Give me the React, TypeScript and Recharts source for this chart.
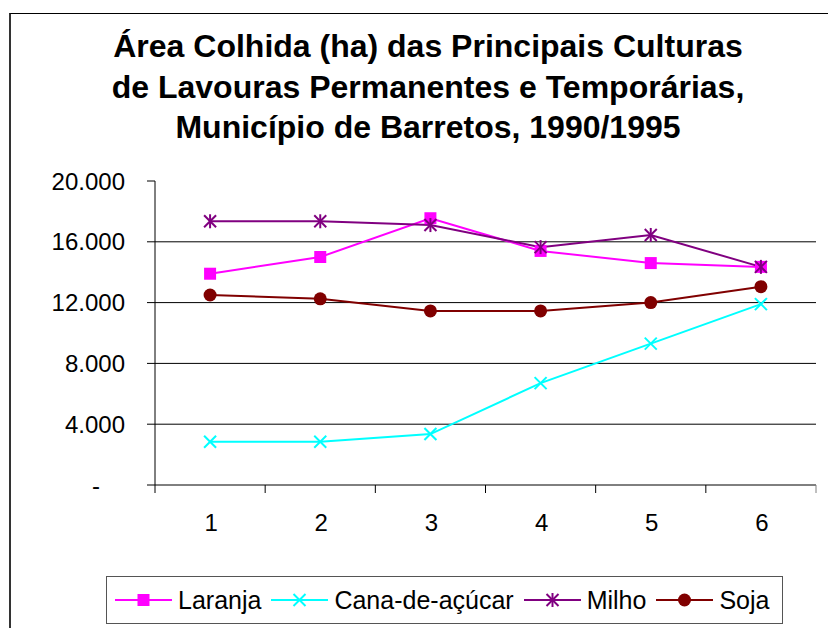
// Área colhida — gráfico de linhas com marcadores no estilo Excel
import React from 'react';
import { LineChart, Line, XAxis, YAxis, CartesianGrid } from 'recharts';

const anos = ['1', '2', '3', '4', '5', '6'];
const laranja = [13900, 15000, 17550, 15400, 14600, 14350];
const cana = [2850, 2850, 3350, 6700, 9300, 11900];
const milho = [17350, 17350, 17100, 15650, 16450, 14350];
const soja = [12500, 12250, 11450, 11450, 12000, 13050];
const yTicks = [0, 4000, 8000, 12000, 16000, 20000];
const titulo = [
  'Área Colhida (ha) das Principais Culturas',
  'de Lavouras Permanentes e Temporárias,',
  'Município de Barretos, 1990/1995',
];

const data = anos.map((ano, i) => ({
  ano,
  laranja: laranja[i],
  cana: cana[i],
  milho: milho[i],
  soja: soja[i],
}));

const series = [
  { key: 'laranja', nome: 'Laranja', cor: '#ff00ff', marca: 'quadrado' },
  { key: 'cana', nome: 'Cana-de-açúcar', cor: '#00ffff', marca: 'x' },
  { key: 'milho', nome: 'Milho', cor: '#800080', marca: 'asterisco' },
  { key: 'soja', nome: 'Soja', cor: '#800000', marca: 'circulo' },
];

const FONTE = '"Liberation Sans", Arial, sans-serif';

function formatar(v: number) {
  if (v === 0) return '-';
  return String(v).replace(/\B(?=(\d{3})+(?!\d))/g, '.');
}

// marcadores desenhados à mão
function Marca({ tipo, cx, cy, cor }: any) {
  if (cx == null || cy == null) return null;
  const s = 6;
  if (tipo === 'quadrado') {
    return <rect x={cx - s} y={cy - s} width={s * 2} height={s * 2} fill={cor} />;
  }
  if (tipo === 'circulo') {
    return <ellipse cx={cx} cy={cy} rx={6.5} ry={6.5} fill={cor} />;
  }
  const linhas = [
    [cx - s, cy - s, cx + s, cy + s],
    [cx - s, cy + s, cx + s, cy - s],
  ];
  if (tipo === 'asterisco') linhas.push([cx, cy - s - 1, cx, cy + s + 1]);
  return (
    <g>
      {linhas.map((l, i) => (
        <line key={i} x1={l[0]} y1={l[1]} x2={l[2]} y2={l[3]} stroke={cor} strokeWidth={2} />
      ))}
    </g>
  );
}

function XTick({ x, y, payload, index }: any) {
  const meio = Math.abs(payload?.offset || 55);
  return (
    <g>
      <line x1={x - meio} x2={x - meio} y1={y - 8} y2={y} stroke="#000" />
      {index === anos.length - 1 && (
        <line x1={x + meio} x2={x + meio} y1={y - 8} y2={y} stroke="#808080" />
      )}
      <text x={x + 1} y={y + 38} textAnchor="middle" fontSize={24} fill="#000" fontFamily={FONTE}>
        {payload.value}
      </text>
    </g>
  );
}

function YTick({ x, y, payload }: any) {
  const v = payload.value;
  return (
    <text
      x={v === 0 ? x - 25 : x}
      y={y}
      dy={8.5}
      textAnchor="end"
      fontSize={24}
      fill="#000"
      fontFamily={FONTE}
    >
      {formatar(v)}
    </text>
  );
}

function App() {
  return (
    <div
      style={{
        position: 'relative',
        width: 828,
        height: 628,
        overflow: 'hidden',
        background: '#fff',
        fontFamily: FONTE,
        color: '#000',
      }}
    >
      <style>{'body{margin:0}'}</style>
      <div
        style={{
          position: 'absolute',
          left: 9,
          top: 13,
          right: -10,
          bottom: -10,
          borderLeft: '2px solid #333',
          borderTop: '1px solid #000',
        }}
      />
      <div
        style={{
          position: 'absolute',
          left: 28,
          top: 26,
          width: 800,
          textAlign: 'center',
          fontWeight: 'bold',
          fontSize: 32,
          lineHeight: '40.5px',
        }}
      >
        {titulo.map((l) => (
          <div key={l}>{l}</div>
        ))}
      </div>
      <div style={{ position: 'absolute', left: 0, top: 0 }}>
        <LineChart
          width={828}
          height={628}
          data={data}
          margin={{ top: 181, right: 12, bottom: 103, left: 0 }}
        >
          <CartesianGrid
            vertical={false}
            stroke="#000"
            horizontalValues={[4000, 8000, 12000, 16000]}
          />
          <XAxis
            dataKey="ano"
            scale="band"
            height={40}
            axisLine={{ stroke: '#000' }}
            tickLine={false}
            tickSize={8}
            tickMargin={0}
            tick={<XTick />}
            interval={0}
          />
          <XAxis
            xAxisId="topo"
            dataKey="ano"
            orientation="top"
            height={0}
            tick={false}
            tickLine={false}
            axisLine={{ stroke: '#808080' }}
          />
          <YAxis
            domain={[0, 20000]}
            ticks={yTicks}
            width={155}
            axisLine={{ stroke: '#000' }}
            tickLine={{ stroke: '#000' }}
            tickSize={8}
            tickMargin={22}
            tick={<YTick />}
            interval={0}
          />
          <YAxis
            yAxisId="borda"
            orientation="right"
            width={0}
            tick={false}
            tickLine={false}
            axisLine={{ stroke: '#808080' }}
          />
          {series.map((s) => (
            <Line
              key={s.key}
              type="linear"
              dataKey={s.key}
              name={s.nome}
              stroke={s.cor}
              strokeWidth={2}
              isAnimationActive={false}
              activeDot={false}
              dot={(p: any) => (
                <Marca key={`${s.key}-${p.index}`} tipo={s.marca} cx={p.cx} cy={p.cy} cor={s.cor} />
              )}
            />
          ))}
        </LineChart>
      </div>
      <div
        style={{
          position: 'absolute',
          left: 106,
          top: 576,
          width: 677,
          height: 48,
          boxSizing: 'border-box',
          border: '1px solid #555',
          display: 'flex',
          alignItems: 'center',
          paddingLeft: 8,
          fontSize: 25,
          whiteSpace: 'nowrap',
        }}
      >
        {series.map((s) => (
          <div key={s.key} style={{ display: 'flex', alignItems: 'center', marginRight: 10 }}>
            <svg width={57} height={20}>
              <line x1={0} x2={57} y1={10} y2={10} stroke={s.cor} strokeWidth={2} />
              <Marca tipo={s.marca} cx={28.5} cy={10} cor={s.cor} />
            </svg>
            <span style={{ marginLeft: 6 }}>{s.nome}</span>
          </div>
        ))}
      </div>
    </div>
  );
}

export default App;
